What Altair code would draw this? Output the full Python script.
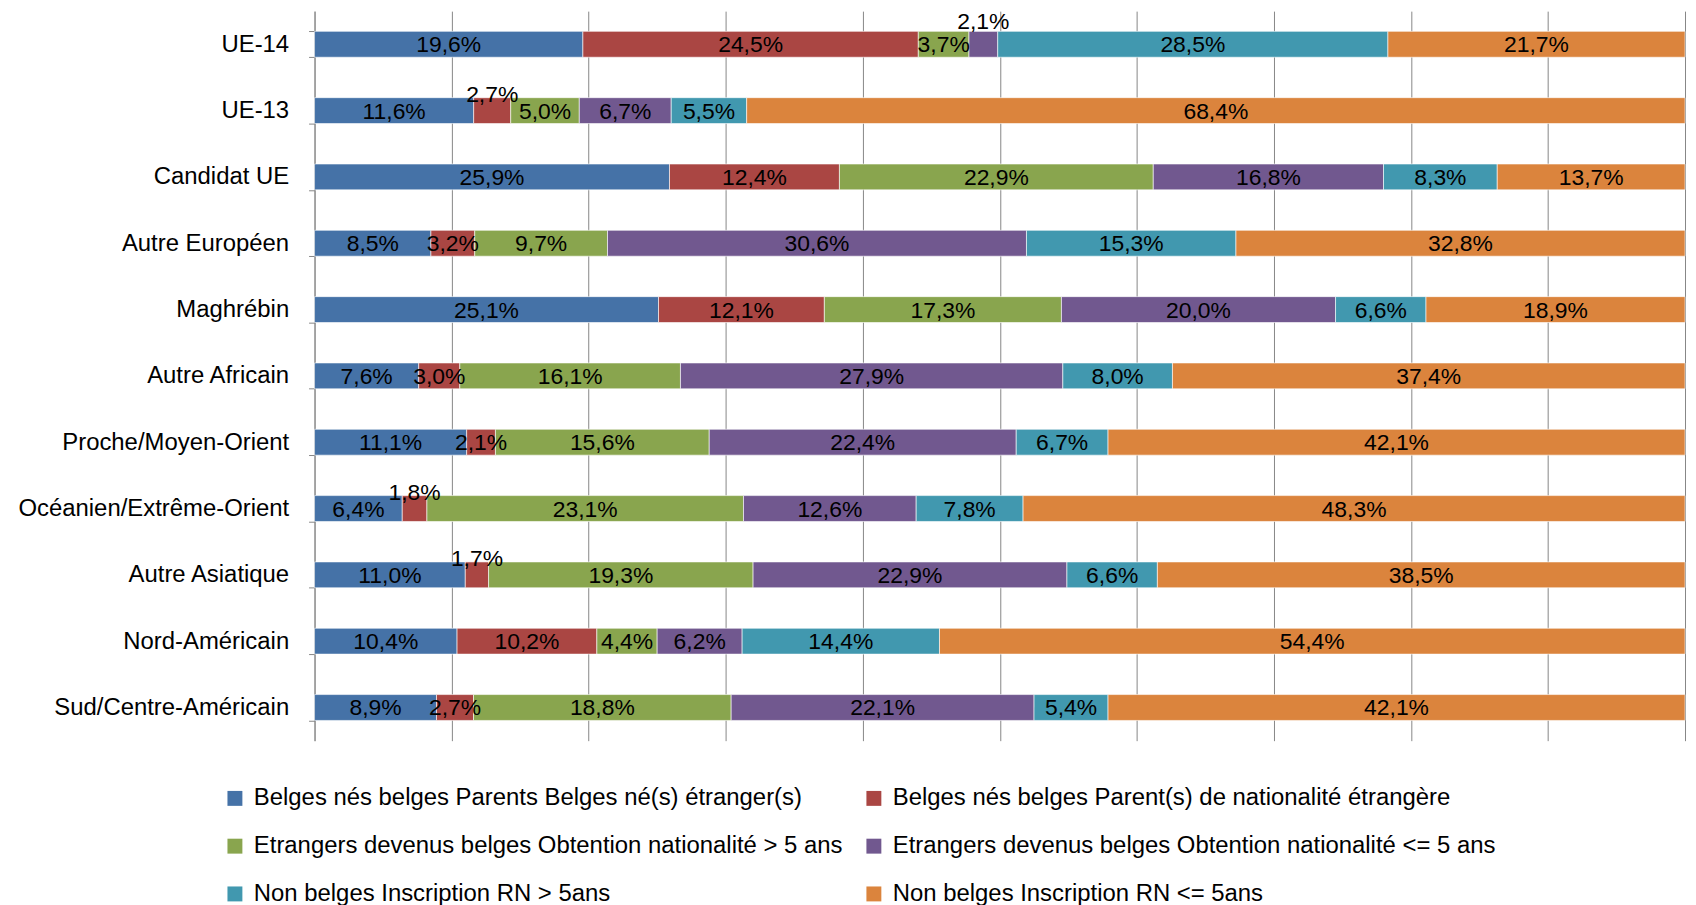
import altair as alt
import pandas as pd

categories = ["UE-14", "UE-13", "Candidat UE", "Autre Européen", "Maghrébin",
              "Autre Africain", "Proche/Moyen-Orient", "Océanien/Extrême-Orient",
              "Autre Asiatique", "Nord-Américain", "Sud/Centre-Américain"]

series = ["Belges nés belges Parents Belges né(s) étranger(s)",
          "Belges nés belges Parent(s) de nationalité étrangère",
          "Etrangers devenus belges Obtention nationalité > 5 ans",
          "Etrangers devenus belges Obtention nationalité <= 5 ans",
          "Non belges Inscription RN > 5ans",
          "Non belges Inscription RN <= 5ans"]

s1 = [19.6, 11.6, 25.9, 8.5, 25.1, 7.6, 11.1, 6.4, 11.0, 10.4, 8.9]
s2 = [24.5, 2.7, 12.4, 3.2, 12.1, 3.0, 2.1, 1.8, 1.7, 10.2, 2.7]
s3 = [3.7, 5.0, 22.9, 9.7, 17.3, 16.1, 15.6, 23.1, 19.3, 4.4, 18.8]
s4 = [2.1, 6.7, 16.8, 30.6, 20.0, 27.9, 22.4, 12.6, 22.9, 6.2, 22.1]
s5 = [28.5, 5.5, 8.3, 15.3, 6.6, 8.0, 6.7, 7.8, 6.6, 14.4, 5.4]
s6 = [21.7, 68.4, 13.7, 32.8, 18.9, 37.4, 42.1, 48.3, 38.5, 54.4, 42.1]

# labels drawn above their (narrow) segment in the original
raised = [("UE-13", 1), ("Océanien/Extrême-Orient", 1), ("Autre Asiatique", 1)]
raised_high = [("UE-14", 3)]

colors = ["#4572A7", "#AA4643", "#89A54E", "#71588F", "#4198AF", "#DB843D"]

rows = []
for si, vals in enumerate([s1, s2, s3, s4, s5, s6]):
    for c, v in zip(categories, vals):
        pos = "high" if (c, si) in raised_high else ("up" if (c, si) in raised else "in")
        rows.append({"cat": c, "series": series[si], "order": si, "value": v, "pos": pos})
df = pd.DataFrame(rows)

FONT = "Liberation Sans, Arial, sans-serif"

base = alt.Chart(df).transform_stack(
    stack="value", groupby=["cat"], as_=["x0", "x1"], offset="normalize",
    sort=[alt.SortField("order", "ascending")]
).transform_calculate(
    xm="(datum.x0 + datum.x1) / 2",
    lbl="replace(format(datum.value, '.1f'), '.', ',') + '%'"
)

yenc = alt.Y("cat:N", sort=categories, title=None,
             scale=alt.Scale(paddingInner=0.61, paddingOuter=0.305),
             axis=alt.Axis(tickBand="extent", labelFontSize=24, labelColor="#000000",
                           labelFont=FONT, domainColor="#868686", tickColor="#868686",
                           tickSize=6, labelPadding=20, grid=False, labelLimit=400))

bars = base.mark_bar(stroke="white", strokeWidth=0.6).encode(
    x=alt.X("x0:Q", scale=alt.Scale(domain=[0, 1], nice=False), title=None,
            axis=alt.Axis(values=[i / 10 for i in range(11)], grid=True, gridColor="#868686",
                          labels=False, ticks=False, domain=False)),
    x2="x1:Q",
    y=yenc,
    color=alt.Color("series:N", scale=alt.Scale(domain=series, range=colors),
                    sort=series,
                    legend=alt.Legend(title=None, orient="none", legendX=-92, legendY=779,
                                      direction="horizontal",
                                      columns=2, columnPadding=19, rowPadding=24,
                                      symbolType="square", symbolSize=225, symbolStrokeWidth=0,
                                      labelFontSize=24, labelFont=FONT, labelColor="#000000",
                                      labelOffset=7, labelLimit=800)),
)

def text_layer(pos, dy):
    return base.transform_filter(alt.datum.pos == pos).mark_text(
        fontSize=23, font=FONT, color="#000000", baseline="middle", align="center", dy=dy
    ).encode(x="xm:Q", y=alt.Y("cat:N", sort=categories), text="lbl:N")

chart = alt.layer(bars, text_layer("in", 1), text_layer("up", -16), text_layer("high", -22)).properties(
    width=1377, height=733,
    autosize=alt.AutoSizeParams(type="none"),
    padding={"left": 308, "top": 1, "right": 3, "bottom": 170},
).configure_view(stroke=None)

chart.save("out.html", embed_options={"renderer": "svg", "actions": False})
